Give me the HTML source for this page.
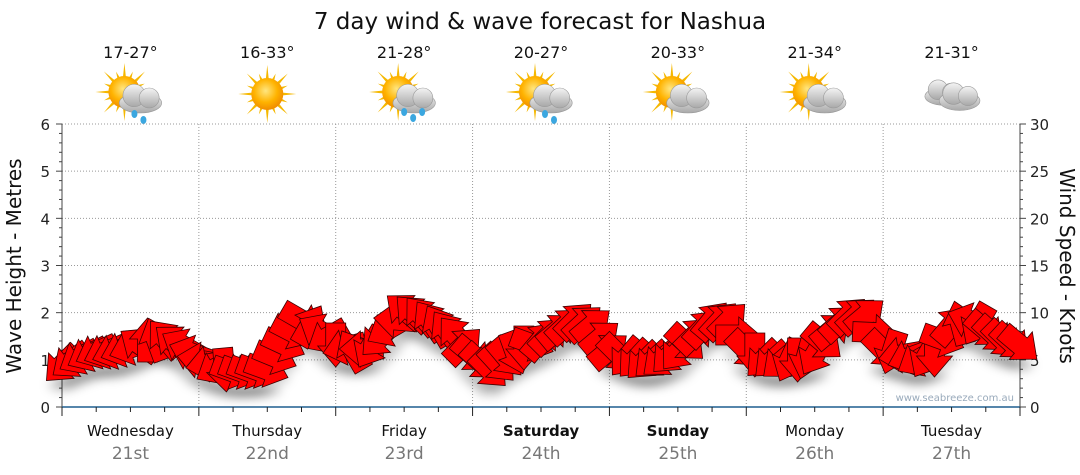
<!DOCTYPE html>
<html><head><meta charset="utf-8"><style>
body{margin:0;background:#fff;width:1080px;height:475px;overflow:hidden}
svg{display:block;font-family:"DejaVu Sans","Liberation Sans",sans-serif}
</style></head><body>
<svg id="s" width="1080" height="475" xmlns="http://www.w3.org/2000/svg">
<defs>
<filter id="sh" x="-50%" y="-50%" width="200%" height="200%"><feGaussianBlur stdDeviation="5"/></filter>
<radialGradient id="sun" cx="45%" cy="40%" r="60%"><stop offset="0" stop-color="#ffe680"/><stop offset="0.6" stop-color="#ffb300"/><stop offset="1" stop-color="#f08c00"/></radialGradient>
<linearGradient id="cl" x1="0" y1="0" x2="0" y2="1"><stop offset="0" stop-color="#f4f4f4"/><stop offset="1" stop-color="#a8a8a8"/></linearGradient>
</defs>
<text x="540" y="29" font-size="23" text-anchor="middle" fill="#111">7 day wind &amp; wave forecast for Nashua</text>
<g id="g"></g>
</svg>
<script>
const g=document.getElementById('g');let h='';
const X0=62,X1=1020,Y0=407,Y6=124,DW=(X1-X0)/7;
const temps=['17-27°','16-33°','21-28°','20-27°','20-33°','21-34°','21-31°'];
const days=['Wednesday','Thursday','Friday','Saturday','Sunday','Monday','Tuesday'];
const dates=['21st','22nd','23rd','24th','25th','26th','27th'];
const icon=['sc','s','scr','sc','c','c','cc'];
function sun(cx,cy){let r='';for(let i=0;i<16;i++){const a=i*Math.PI/8,l=i%2?22:29;r+=`<polygon points="${cx+Math.cos(a-0.13)*13},${cy+Math.sin(a-0.13)*13} ${cx+Math.cos(a)*l},${cy+Math.sin(a)*l} ${cx+Math.cos(a+0.13)*13},${cy+Math.sin(a+0.13)*13}" fill="#f5b800"/>`;}return r+`<circle cx="${cx}" cy="${cy}" r="16" fill="url(#sun)"/>`;}
function cloud(cx,cy,s){return `<g fill="url(#cl)" stroke="#999" stroke-width="0.6"><ellipse cx="${cx}" cy="${cy+4*s}" rx="${17*s}" ry="${8*s}"/><circle cx="${cx-5*s}" cy="${cy-2*s}" r="${9*s}"/><circle cx="${cx+7*s}" cy="${cy}" r="${8*s}"/></g>`;}
function drops(cx,cy,n){let r='';for(let i=0;i<n;i++)r+=`<ellipse cx="${cx-8+i*9}" cy="${cy+(i%2)*6}" rx="3" ry="4" fill="#3ba7e0"/>`;return r;}
for(let d=0;d<7;d++){const cx=X0+DW*(d+0.5);
h+=`<text x="${cx}" y="58" font-size="16" text-anchor="middle" fill="#111">${temps[d]}</text>`;
const t=icon[d];
if(t=='s')h+=sun(cx,94);
else if(t=='cc'){h+=cloud(cx-8,92,1.1)+cloud(cx+8,96,1.2);}
else{h+=sun(cx-6,92);h+=cloud(cx+10,98,1.25);if(t=='sc')h+=drops(cx+12,114,2);if(t=='scr')h+=drops(cx+8,112,3);}
h+=`<text x="${cx}" y="436" font-size="15" text-anchor="middle" fill="#111" ${d==3||d==4?'font-weight="bold"':''}>${days[d]}</text>`;
h+=`<text x="${cx}" y="459" font-size="17" text-anchor="middle" fill="#777">${dates[d]}</text>`;
if(d>0)h+=`<line x1="${X0+DW*d}" y1="${Y6}" x2="${X0+DW*d}" y2="${Y0}" stroke="#999" stroke-dasharray="1,2"/>`;
}
for(let i=1;i<=6;i++){const y=Y0-(Y0-Y6)*i/6;h+=`<line x1="${X0}" y1="${y}" x2="${X1}" y2="${y}" stroke="#999" stroke-dasharray="1,2"/>`;}
for(let i=0;i<=6;i++){const y=Y0-(Y0-Y6)*i/6;h+=`<text x="50" y="${y+6}" font-size="15" text-anchor="end" fill="#222">${i}</text><text x="1030" y="${y+6}" font-size="15" fill="#222">${i*5}</text>`;}
for(let i=0;i<=30;i++){const y=Y0-(Y0-Y6)*i/30;h+=`<line x1="${X0-(i%5?3:6)}" y1="${y}" x2="${X0}" y2="${y}" stroke="#444"/><line x1="${X1}" y1="${y}" x2="${X1+(i%5?3:6)}" y2="${y}" stroke="#444"/>`;}
h+=`<line x1="${X0}" y1="${Y6}" x2="${X0}" y2="${Y0}" stroke="#444"/><line x1="${X1}" y1="${Y6}" x2="${X1}" y2="${Y0}" stroke="#444"/>`;
h+=`<line x1="${X0}" y1="${Y0}" x2="${X1}" y2="${Y0}" stroke="#1f5f8f" stroke-width="1.5"/>`;
for(let i=0;i<=28;i++){const x=X0+DW*i/4;h+=`<line x1="${x}" y1="${Y0}" x2="${x}" y2="${Y0+(i%4?5:9)}" stroke="#222"/>`;}
h+=`<text transform="translate(21,266) rotate(-90)" font-size="20" text-anchor="middle" fill="#111">Wave Height - Metres</text>`;
h+=`<text transform="translate(1060,266) rotate(90)" font-size="20" text-anchor="middle" fill="#111">Wind Speed - Knots</text>`;
h+=`<text x="1014" y="401" font-size="10" text-anchor="end" fill="#9ab">www.seabreeze.com.au</text>`;
const ys=[365,358,352,352,348,340,338,345,360,368,372,372,370,345,320,330,345,350,348,330,310,315,325,335,355,370,358,348,340,330,320,325,350,358,362,360,352,335,320,320,350,360,362,360,355,330,315,315,350,355,360,355,325,320,330,340,345];
const an=[135,150,155,160,160,-90,-130,-150,-170,150,20,20,20,25,30,-150,90,-120,120,150,-140,-130,-120,-130,40,45,50,90,-50,-40,-45,-40,-40,130,135,140,130,-45,-50,-45,45,135,140,90,120,-40,-45,-40,45,170,150,90,-50,-160,40,45,40];
let arr='',shd='';
const P="-22,-10 1,-10 1,-18 22,0 1,18 1,10 -22,10";
const N=(ys.length-1)*2;
for(let k=0;k<=N;k++){const i=Math.floor(k/2),f=k%2?0.5:0;
let y=ys[i],a=an[i];
if(f){y=(ys[i]+ys[i+1])/2;let d=an[i+1]-an[i];if(d>180)d-=360;if(d<-180)d+=360;a=an[i]+d/2;}
const x=X0+k*DW/16;
shd+=`<ellipse cx="${x}" cy="${y+20}" rx="14" ry="6" fill="#000" opacity="0.2"/>`;
arr+=`<polygon points="${P}" transform="translate(${x},${y}) rotate(${a})" fill="#f00" stroke="#3a0000" stroke-width="0.8"/>`;}
h+=`<g filter="url(#sh)">${shd}</g>`+arr;
g.innerHTML=h;
</script>
</body></html>
